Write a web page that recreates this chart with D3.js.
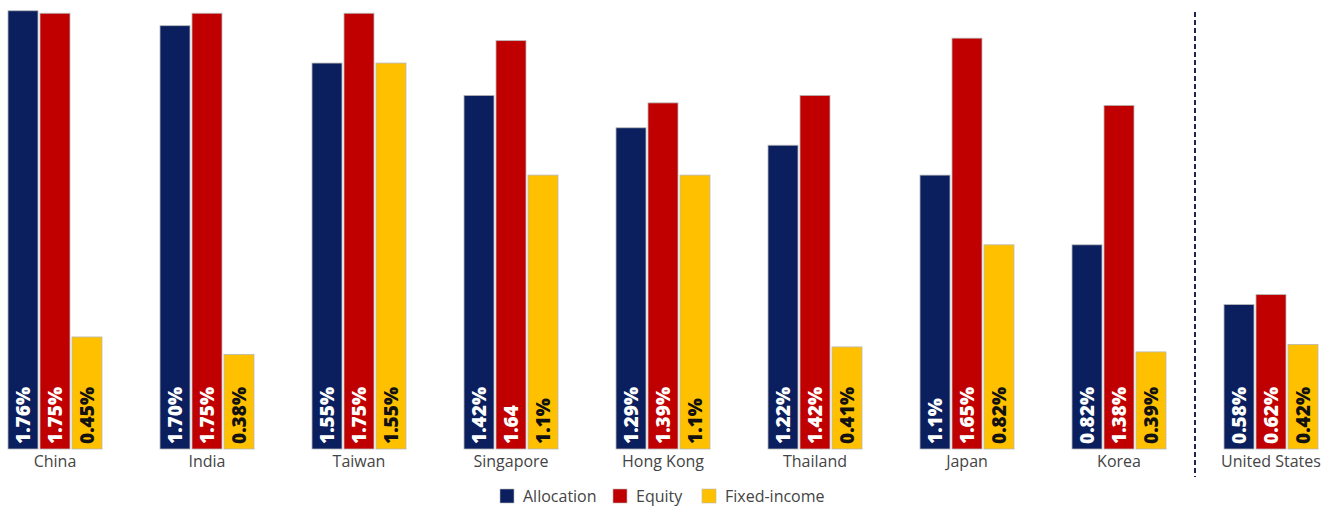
<!DOCTYPE html>
<html>
<head>
<meta charset="utf-8">
<script src="https://cdn.jsdelivr.net/npm/d3@7"></script>
<style>
  body { margin: 0; background: #fff; }
  svg { display: block; font-family: 'Open Sans', sans-serif; }
</style>
</head>
<body>
<svg id="chart"></svg>
<script>
const categories = ['China', 'India', 'Taiwan', 'Singapore', 'Hong Kong', 'Thailand', 'Japan', 'Korea', 'United States'];
const seriesNames = ['Allocation', 'Equity', 'Fixed-income'];
const allocation = [1.76, 1.70, 1.55, 1.42, 1.29, 1.22, 1.1, 0.82, 0.58];
const equity = [1.75, 1.75, 1.75, 1.64, 1.39, 1.42, 1.65, 1.38, 0.62];
const fixedIncome = [0.45, 0.38, 1.55, 1.1, 1.1, 0.41, 0.82, 0.39, 0.42];
// labels as printed in the source (some drop the % sign)
const allocationLabels = ['1.76%', '1.70%', '1.55%', '1.42%', '1.29%', '1.22%', '1.1%', '0.82%', '0.58%'];
const equityLabels = ['1.75%', '1.75%', '1.75%', '1.64', '1.39%', '1.42%', '1.65%', '1.38%', '0.62%'];
const fixedIncomeLabels = ['0.45%', '0.38%', '1.55%', '1.1%', '1.1%', '0.41%', '0.82%', '0.39%', '0.42%'];

const colors = { 'Allocation': '#0b1f5e', 'Equity': '#c00000', 'Fixed-income': '#ffc000' };
const labelColors = { 'Allocation': '#fff', 'Equity': '#fff', 'Fixed-income': '#111' };

const width = 1332, height = 507;
const svg = d3.select('#chart').attr('width', width).attr('height', height);

const rows = categories.map((c, i) => ({
  category: c,
  values: [
    { key: 'Allocation', value: allocation[i], label: allocationLabels[i] },
    { key: 'Equity', value: equity[i], label: equityLabels[i] },
    { key: 'Fixed-income', value: fixedIncome[i], label: fixedIncomeLabels[i] }
  ]
}));

const x = d3.scaleBand().domain(categories).range([8, 1318]).paddingInner(58 / 152).paddingOuter(0);
const xs = d3.scaleBand().domain(seriesNames).range([0, x.bandwidth()]).paddingInner(0.0625);
const baseline = 449;
const y = d3.scaleLinear().domain([0, 1.8]).range([baseline, baseline - 1.8 * 249]);

const groups = svg.append('g').selectAll('g.group')
  .data(rows)
  .enter()
  .append('g')
  .attr('class', 'group')
  .attr('transform', d => 'translate(' + x(d.category) + ',0)');

groups.selectAll('rect')
  .data(d => d.values)
  .enter()
  .append('rect')
  .attr('x', d => xs(d.key))
  .attr('y', d => y(d.value))
  .attr('width', xs.bandwidth())
  .attr('height', d => y(0) - y(d.value))
  .attr('fill', d => colors[d.key])
  .attr('stroke', '#b8b8b8')
  .attr('stroke-width', 0.8);

groups.selectAll('text.val')
  .data(d => d.values)
  .enter()
  .append('text')
  .attr('class', 'val')
  .attr('transform', d => 'translate(' + (xs(d.key) + xs.bandwidth() / 2 + 7) + ',' + (baseline - 5) + ') rotate(-90)')
  .attr('text-anchor', 'start')
  .style('font-size', '19px')
  .style('font-weight', 800)
  .attr('fill', d => labelColors[d.key])
  .text(d => d.label);

// category axis labels
svg.append('g').selectAll('text.cat')
  .data(categories)
  .enter()
  .append('text')
  .attr('class', 'cat')
  .attr('x', d => x(d) + x.bandwidth() / 2)
  .attr('y', 467)
  .attr('text-anchor', 'middle')
  .style('font-size', '16px')
  .attr('fill', '#444')
  .text(d => d);

// separator between Asia and United States
const sepX = (x('Korea') + x.bandwidth() + x('United States')) / 2;
svg.append('line')
  .attr('x1', sepX).attr('x2', sepX)
  .attr('y1', 12).attr('y2', 477)
  .attr('stroke', '#1a2550')
  .attr('stroke-width', 2)
  .attr('stroke-dasharray', '5,3');

// legend
const legendItems = [
  { key: 'Allocation', x: 500 },
  { key: 'Equity', x: 613 },
  { key: 'Fixed-income', x: 702 }
];
const legend = svg.append('g').selectAll('g')
  .data(legendItems)
  .enter()
  .append('g')
  .attr('transform', d => 'translate(' + d.x + ',489)');
legend.append('rect')
  .attr('width', 14).attr('height', 14)
  .attr('fill', d => colors[d.key])
  .attr('stroke', '#b8b8b8')
  .attr('stroke-width', 0.6);
legend.append('text')
  .attr('x', 23).attr('y', 13)
  .style('font-size', '16px')
  .attr('fill', '#444')
  .text(d => d.key);
</script>
</body>
</html>
